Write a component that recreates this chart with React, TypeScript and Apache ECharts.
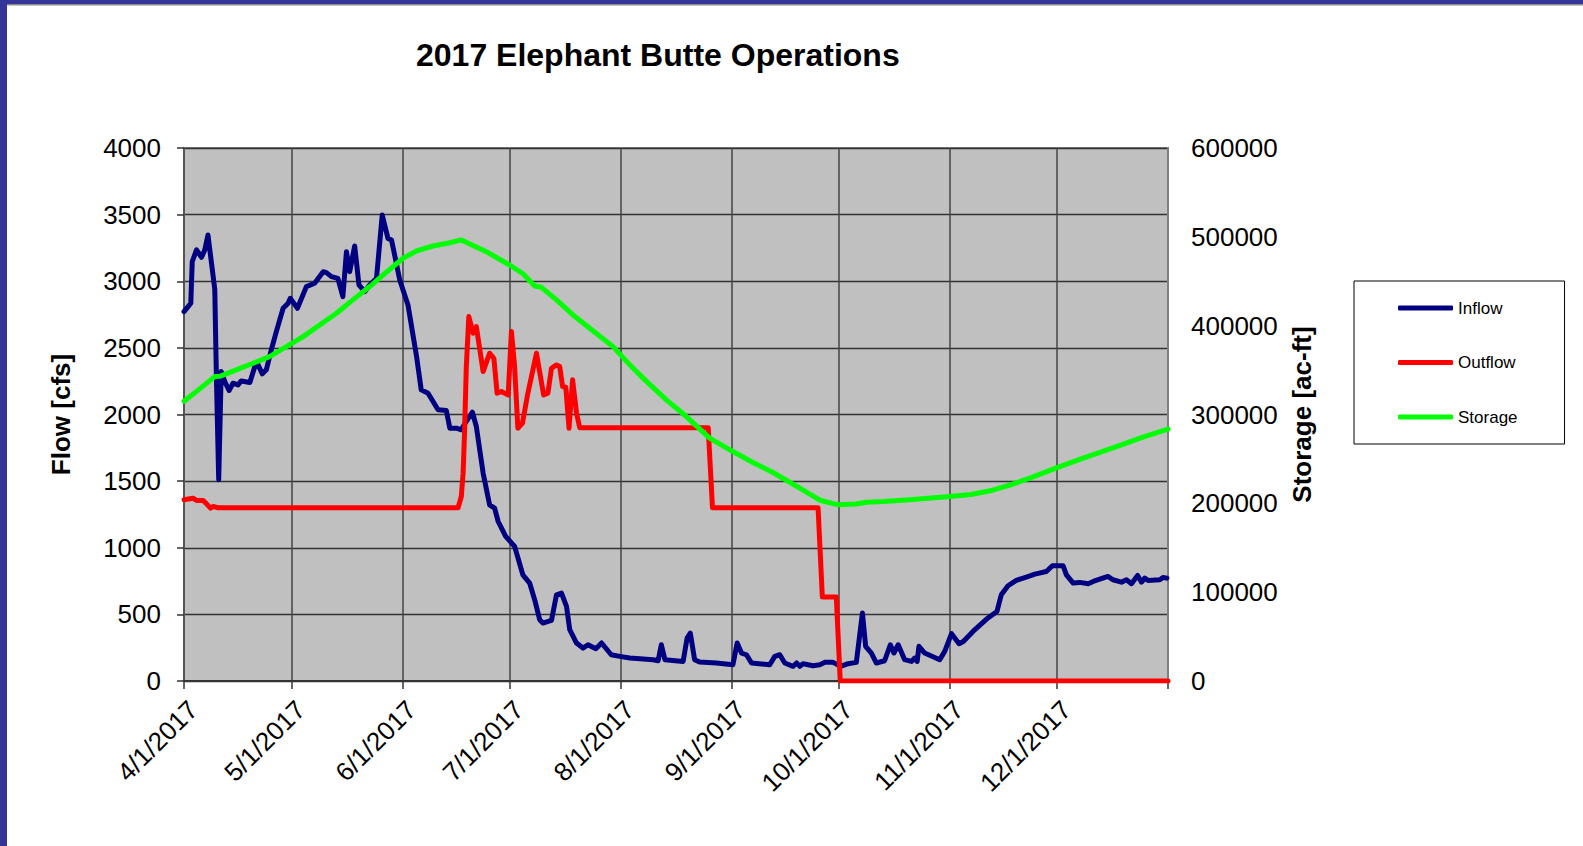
import { useEffect, useRef } from "react";
import * as echarts from "echarts";

const chartTitle = "2017 Elephant Butte Operations";
const flowAxisName = "Flow [cfs]";
const storageAxisName = "Storage [ac-ft]";

// x = days since 4/1/2017; month boundaries (4/1 ... 1/1/2018)
const monthStartDays = [0, 30, 61, 91, 122, 153, 183, 214, 244, 275];
const monthTickLabels = [
  "4/1/2017", "5/1/2017", "6/1/2017", "7/1/2017", "8/1/2017",
  "9/1/2017", "10/1/2017", "11/1/2017", "12/1/2017",
];

const seriesNames = ["Inflow", "Outflow", "Storage"];
const seriesColors = ["#000080", "#FF0000", "#00FF00"];

// [day, cfs]
const inflow: [number, number][] = [
  [0, 2772], [1.9, 2835], [2.3, 3147], [3.5, 3235], [4.9, 3180], [5.8, 3235], [6.7, 3347],
  [8.6, 2940], [9.05, 2285], [9.7, 1510], [10.4, 2322], [11.4, 2247], [12.6, 2180], [13.7, 2235],
  [15.1, 2222], [16, 2252], [18.4, 2240], [19.8, 2360], [20.7, 2372], [21.9, 2305], [23, 2335],
  [24.4, 2485], [25.8, 2622], [27.7, 2797], [29.1, 2835], [29.7, 2872], [31.7, 2797], [34.2, 2960],
  [36.5, 2985], [38.9, 3072], [39.8, 3065], [41.2, 3035], [43, 3022], [44.4, 2885], [45.4, 3222],
  [46.3, 3072], [47.7, 3265], [48.9, 2972], [50.5, 2922], [51.9, 2972], [53.8, 3022], [55.4, 3497],
  [57, 3322], [58, 3310], [60.3, 3010], [62.6, 2822], [65, 2435], [66.3, 2185], [68.2, 2160],
  [71, 2035], [73.3, 2030], [74.3, 1897], [76.1, 1897], [77.5, 1885], [78, 1910], [80.6, 2017],
  [81.7, 1910], [83.6, 1560], [85.4, 1322], [86.8, 1297], [87.8, 1197], [89.2, 1122], [89.9, 1085],
  [92.4, 1010], [94.7, 797], [96.6, 735], [98, 610], [99.4, 460], [100.3, 435], [102.7, 455],
  [104.1, 647], [105.5, 660], [106.9, 560], [107.8, 385], [109.7, 285], [111.5, 247], [112.9, 272],
  [115.1, 242], [116.7, 285], [119.4, 197], [121.8, 185], [124.6, 172], [131.1, 160], [132.5, 152],
  [133.4, 272], [134.4, 160], [139.5, 147], [140.6, 322], [141.5, 360], [142.7, 160], [144.1, 142],
  [148.8, 135], [153.4, 122], [154.6, 285], [155.8, 210], [157.2, 197], [158.6, 135], [163.7, 122],
  [165.1, 185], [166.5, 197], [167.9, 135], [170.2, 110], [171.2, 135], [172.1, 110], [173, 130],
  [175.8, 115], [177.7, 122], [179.1, 140], [181.4, 140], [183.5, 110], [185.6, 130], [187.9, 140],
  [189.6, 510], [190.5, 260], [192.1, 210], [193.5, 135], [195.8, 152], [197.4, 272], [198.4, 210],
  [199.6, 272], [201.4, 160], [203.3, 147], [204.2, 172], [204.9, 147], [205.4, 260], [207, 210],
  [211.2, 160], [212.6, 222], [214.5, 355], [216.6, 280], [217.8, 297], [220.5, 372], [224.3, 465],
  [227.2, 522], [228.4, 647], [230.3, 715], [232.6, 755], [235.4, 780], [237.8, 802], [241, 822],
  [242.7, 865], [245.7, 865], [246.6, 797], [248.5, 735], [250.3, 740], [252.7, 730], [254.1, 747],
  [258.2, 785], [259.6, 760], [262, 742], [263.4, 760], [264.8, 730], [266.5, 792], [267.6, 742],
  [268.5, 772], [269.4, 755], [272.7, 760], [273.6, 777], [274.7, 772],
];

// [day, cfs]
const outflow: [number, number][] = [
  [0, 1360], [2.5, 1372], [3.5, 1355], [5.3, 1355], [6.1, 1335], [7.4, 1297], [8.1, 1310],
  [9.5, 1300], [76.6, 1300], [77.5, 1385], [78, 1560], [78.4, 1860], [78.9, 2360], [79.6, 2735],
  [80.8, 2610], [81.7, 2660], [83.6, 2322], [85.4, 2460], [86.6, 2422], [87.5, 2160], [88.7, 2172],
  [90.6, 2147], [91.5, 2622], [92.4, 2360], [93.3, 1897], [94.6, 1935], [96.1, 2160], [98.5, 2460],
  [100.5, 2147], [101.7, 2160], [102.7, 2347], [104.1, 2372], [105, 2360], [105.8, 2210],
  [106.7, 2205], [107.6, 1897], [108.6, 2260], [109.7, 2010], [110.6, 1900], [146.5, 1900],
  [147.7, 1300], [177.2, 1300], [178.4, 630], [182.3, 630], [183.4, 0], [275, 0],
];

// [day, ac-ft]
const storage: [number, number][] = [
  [0, 315000], [3.5, 326000], [8.6, 342700], [10, 343000], [14.6, 350200], [19.3, 357700],
  [23.9, 365200], [28.6, 376400], [33.3, 387700], [37.9, 400800], [42.6, 414000], [47.2, 429000],
  [51.9, 444000], [55.6, 457000], [61.2, 475900], [65, 484100], [69.6, 489700], [74.3, 493400],
  [77.5, 496500], [84.5, 483300], [91, 468300], [94.8, 458200], [98, 444700], [99.9, 443200],
  [104.1, 429000], [108.7, 412100], [113.4, 397100], [119.9, 376400], [124.6, 355800],
  [128.8, 339000], [134.8, 316500], [140.4, 297700], [146.9, 273400], [153.4, 258300],
  [159, 246000], [164.6, 234700], [172.1, 217100], [177.7, 203500], [182.8, 198300],
  [187.9, 199300], [190.7, 201200], [195.4, 202000], [202.8, 204000], [214, 207700],
  [220, 210000], [226, 214800], [231, 220800], [236.4, 228400], [243.8, 240000],
  [251.3, 250900], [260.6, 263900], [268, 274500], [275, 283500],
];

const FONT = "'Liberation Sans', Arial, sans-serif";
const plainNumber = (v: number) => String(Math.round(v));

export default function App() {
  const ref = useRef<HTMLDivElement>(null);

  useEffect(() => {
    if (!ref.current) return;
    const chart = echarts.init(ref.current, null, { renderer: "svg" });
    const seriesData = [inflow, outflow, storage];

    chart.setOption({
      animation: false,
      backgroundColor: "#ffffff",
      textStyle: { fontFamily: FONT },
      title: {
        text: chartTitle,
        left: 416,
        top: 36,
        padding: 0,
        textStyle: { fontSize: 32, fontWeight: "bold", color: "#000", fontFamily: FONT, lineHeight: 38 },
      },
      legend: {
        orient: "vertical",
        left: 1354,
        top: 281,
        data: seriesNames,
        icon: "roundRect",
        itemWidth: 55,
        itemHeight: 5,
        itemGap: 34.5,
        padding: [17, 47, 17, 44],
        borderColor: "#000",
        borderWidth: 1,
        backgroundColor: "#fff",
        textStyle: { fontSize: 17, color: "#000", fontFamily: FONT, lineHeight: 20 },
      },
      grid: {
        left: 184,
        top: 148,
        width: 984,
        height: 533,
        show: true,
        backgroundColor: "#C0C0C0",
        borderColor: "#808080",
        borderWidth: 2,
        containLabel: false,
        outerBoundsMode: "none",
      },
      xAxis: {
        type: "value",
        min: monthStartDays[0],
        max: monthStartDays[monthStartDays.length - 1],
        axisLine: { show: true, onZero: false, lineStyle: { color: "#333", width: 2 } },
        axisTick: {
          show: true,
          customValues: monthStartDays,
          length: 8,
          lineStyle: { color: "#333", width: 1.5 },
        },
        axisLabel: {
          customValues: monthStartDays.slice(0, monthTickLabels.length),
          rotate: 45,
          fontSize: 26,
          color: "#000",
          fontFamily: FONT,
          margin: 15,
          verticalAlign: "top",
          formatter: (v: number) => {
            const i = monthStartDays.indexOf(Math.round(v));
            return i >= 0 && i < monthTickLabels.length ? monthTickLabels[i] : "";
          },
        },
        splitLine: { show: true, lineStyle: { color: "#444", width: 1.5 } },
      },
      yAxis: [
        {
          type: "value",
          position: "left",
          min: 0,
          max: 4000,
          interval: 500,
          name: flowAxisName,
          nameLocation: "middle",
          nameGap: 110,
          nameTextStyle: { fontSize: 26, fontWeight: "bold", color: "#000", fontFamily: FONT },
          axisLine: { show: true, lineStyle: { color: "#555", width: 2 } },
          axisTick: { show: true, length: 7, lineStyle: { color: "#333", width: 1.5 } },
          axisLabel: { fontSize: 26, color: "#000", margin: 23, fontFamily: FONT, formatter: plainNumber },
          splitLine: { show: true, lineStyle: { color: "#333", width: 1.4 } },
        },
        {
          type: "value",
          position: "right",
          min: 0,
          max: 600000,
          interval: 100000,
          name: storageAxisName,
          nameLocation: "middle",
          nameGap: 116,
          nameTextStyle: { fontSize: 26, fontWeight: "bold", color: "#000", fontFamily: FONT },
          axisLine: { show: true, lineStyle: { color: "#808080", width: 2 } },
          axisTick: { show: false },
          axisLabel: { fontSize: 26, color: "#000", margin: 23, fontFamily: FONT, formatter: plainNumber },
          splitLine: { show: false },
        },
      ],
      series: seriesNames.map((name, i) => ({
        name,
        type: "line",
        yAxisIndex: i === 2 ? 1 : 0,
        data: seriesData[i],
        showSymbol: false,
        symbol: "none",
        color: seriesColors[i],
        lineStyle: { color: seriesColors[i], width: 5, cap: "round", join: "round" },
        z: 3 + i,
      })),
      graphic: [
        { type: "rect", shape: { x: 0, y: 0, width: 1583, height: 4 }, style: { fill: "#353599" }, z: 100 },
        { type: "rect", shape: { x: 0, y: 4, width: 1583, height: 1.5 }, style: { fill: "#8a8a8a" }, z: 100 },
        { type: "rect", shape: { x: 0, y: 0, width: 7, height: 846 }, style: { fill: "#353599" }, z: 101 },
      ],
    });

    return () => {
      chart.dispose();
    };
  }, []);

  return (
    <div
      ref={ref}
      style={{ position: "fixed", left: 0, top: 0, width: 1583, height: 846, background: "#fff" }}
    />
  );
}
